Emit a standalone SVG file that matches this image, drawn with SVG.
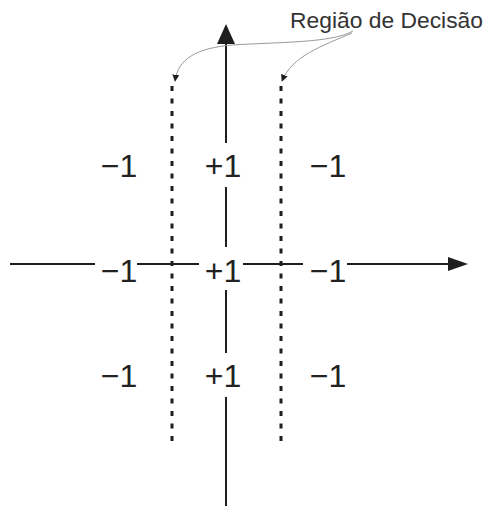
<svg xmlns="http://www.w3.org/2000/svg" width="489" height="506" viewBox="0 0 489 506">
<style>
.ax{stroke:#1e1e1e;stroke-width:2;fill:none}
.dot{stroke:#1e1e1e;stroke-width:3;stroke-dasharray:5 7.5;fill:none}
.call{stroke:#9a9a9a;stroke-width:1;fill:none}
.lbl{font-family:"Liberation Sans",Arial,sans-serif;font-size:32px;fill:#222;text-anchor:middle}
.ttl{font-family:"Liberation Sans",Arial,sans-serif;font-size:22px;fill:#333}
</style>
<defs>
<marker id="ca" viewBox="0 0 10 10" refX="9" refY="5" markerWidth="7" markerHeight="7" markerUnits="userSpaceOnUse" orient="auto">
<path d="M0,0 L10,5 L0,10 Z" fill="#1e1e1e"/>
</marker>
</defs>
<g id="connectors">
<g id="v-axis">
<line class="ax" x1="226" y1="42" x2="226" y2="143"/>
<line class="ax" x1="226" y1="187" x2="226" y2="247"/>
<line class="ax" x1="226" y1="290" x2="226" y2="353"/>
<line class="ax" x1="226" y1="397" x2="226" y2="506"/>
<polygon points="226,24 217,44 235,44" fill="#1e1e1e"/>
</g>
<g id="h-axis">
<line class="ax" x1="10" y1="264" x2="95" y2="264"/>
<line class="ax" x1="137" y1="264" x2="199" y2="264"/>
<line class="ax" x1="243" y1="264" x2="303" y2="264"/>
<line class="ax" x1="347" y1="264" x2="450" y2="264"/>
<polygon points="468,264 448,257 448,271" fill="#1e1e1e"/>
</g>
<line class="dot" x1="172" y1="86" x2="172" y2="443"/>
<line class="dot" x1="281" y1="86" x2="281" y2="443"/>
<path class="call" d="M353,31 C332,43 280,42 232,45 C198,48 178,58 175,81" marker-end="url(#ca)"/>
<path class="call" d="M352,33 C322,46 292,56 282,81" marker-end="url(#ca)"/>
</g>
<g id="title"><text class="ttl" x="290" y="28" textLength="193" lengthAdjust="spacingAndGlyphs">Região de Decisão</text></g>
<g id="r1c1"><text class="lbl" x="119" y="177">−1</text></g>
<g id="r1c2"><text class="lbl" x="223" y="177">+1</text></g>
<g id="r1c3"><text class="lbl" x="328" y="177">−1</text></g>
<g id="r2c1"><text class="lbl" x="119" y="282">−1</text></g>
<g id="r2c2"><text class="lbl" x="223" y="282">+1</text></g>
<g id="r2c3"><text class="lbl" x="328" y="282">−1</text></g>
<g id="r3c1"><text class="lbl" x="119" y="387">−1</text></g>
<g id="r3c2"><text class="lbl" x="223" y="387">+1</text></g>
<g id="r3c3"><text class="lbl" x="328" y="387">−1</text></g>
</svg>
